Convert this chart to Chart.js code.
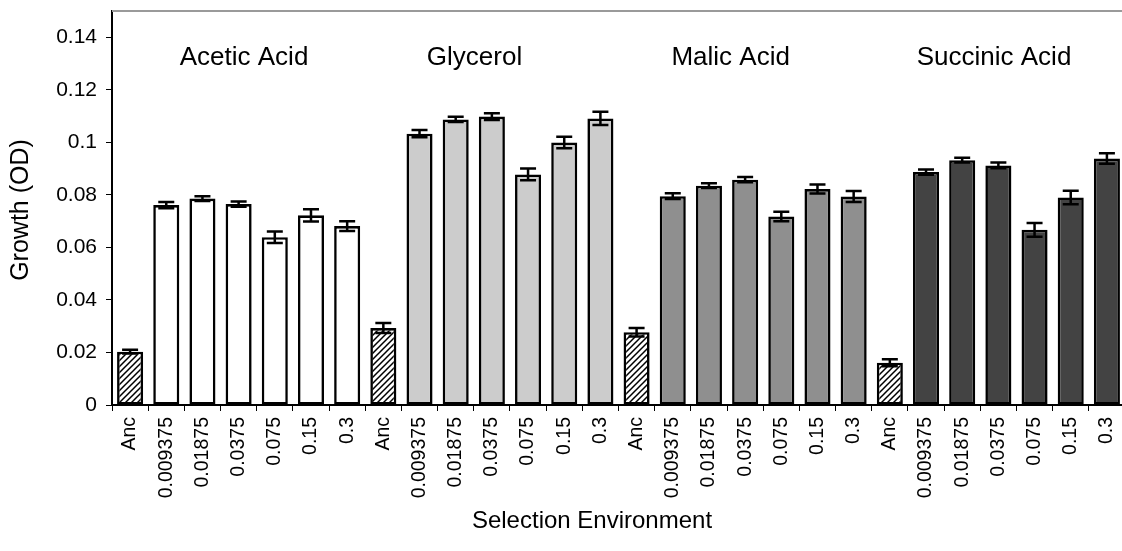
<!DOCTYPE html>
<html>
<head>
<meta charset="utf-8">
<script src="https://cdn.jsdelivr.net/npm/chart.js@4.4.1/dist/chart.umd.min.js"></script>
<style>
  html, body { margin: 0; padding: 0; background: #fff; overflow: hidden; }
  #wrap { width: 1125px; height: 551px; }
</style>
</head>
<body>
<div id="wrap"><canvas id="growthChart"></canvas></div>
<script>
const groupNames = ['Acetic Acid', 'Glycerol', 'Malic Acid', 'Succinic Acid'];
const concentrations = ['Anc', '0.009375', '0.01875', '0.0375', '0.075', '0.15', '0.3'];

const aceticMeans    = [0.0203, 0.0761, 0.0786, 0.0765, 0.0639, 0.0722, 0.0681];
const aceticErrors   = [0.0007, 0.0012, 0.0009, 0.0010, 0.0022, 0.0023, 0.0019];
const glycerolMeans  = [0.0293, 0.1033, 0.1087, 0.1098, 0.0878, 0.0999, 0.1091];
const glycerolErrors = [0.0019, 0.0014, 0.0010, 0.0013, 0.0022, 0.0022, 0.0025];
const malicMeans     = [0.0277, 0.0795, 0.0835, 0.0858, 0.0718, 0.0822, 0.0794];
const malicErrors    = [0.0016, 0.0011, 0.0009, 0.0010, 0.0018, 0.0017, 0.0021];
const succinicMeans  = [0.0161, 0.0887, 0.0932, 0.0912, 0.0667, 0.0790, 0.0938];
const succinicErrors = [0.0013, 0.0010, 0.0009, 0.0011, 0.0026, 0.0026, 0.0020];

const groupColors = ['#ffffff', '#cccccc', '#8f8f8f', '#434343'];
// where each group name sits along the category axis
const groupLabelPos = [3.15, 9.52, 16.6, 23.88];

const allMeans = [aceticMeans, glycerolMeans, malicMeans, succinicMeans];
const allErrors = [aceticErrors, glycerolErrors, malicErrors, succinicErrors];

const FONT = '"Liberation Sans", Arial, Helvetica, sans-serif';

// white background with "////" stripes for the ancestor bars
function makeHatch(ctx) {
    const c = document.createElement('canvas');
    c.width = 6; c.height = 6;
    const g = c.getContext('2d');
    g.fillStyle = '#fff';
    g.fillRect(0, 0, 6, 6);
    g.strokeStyle = '#000';
    g.lineWidth = 1.5;
    g.beginPath();
    g.moveTo(0, 6); g.lineTo(6, 0);
    g.moveTo(-1, 1); g.lineTo(1, -1);
    g.moveTo(5, 7); g.lineTo(7, 5);
    g.stroke();
    return ctx.createPattern(c, 'repeat');
}

const ctx = document.getElementById('growthChart').getContext('2d');
const hatch = makeHatch(ctx);

const labels = [];
const values = [];
const errors = [];
const fills = [];
allMeans.forEach((means, gi) => {
    means.forEach((m, i) => {
        labels.push(concentrations[i]);
        values.push(m);
        errors.push(allErrors[gi][i]);
        fills.push(i === 0 ? hatch : groupColors[gi]);
    });
});

const errorBars = {
    id: 'errorBars',
    afterDatasetsDraw(chart) {
        const meta = chart.getDatasetMeta(0);
        const y = chart.scales.y;
        const c = chart.ctx;
        c.save();
        c.strokeStyle = '#000';
        c.lineWidth = 2.5;
        meta.data.forEach((bar, i) => {
            const top = y.getPixelForValue(values[i] + errors[i]);
            const bot = y.getPixelForValue(values[i] - errors[i]);
            const x = bar.x;
            c.beginPath();
            c.moveTo(x, top); c.lineTo(x, bot);
            c.moveTo(x - 8, top); c.lineTo(x + 8, top);
            c.moveTo(x - 8, bot); c.lineTo(x + 8, bot);
            c.stroke();
        });
        c.restore();
    }
};

const decorations = {
    id: 'decorations',
    afterDraw(chart) {
        const c = chart.ctx;
        const area = chart.chartArea;
        const xs = chart.scales.x;
        const ys = chart.scales.y;
        c.save();
        // grey frame line along the top of the plot
        c.strokeStyle = '#9a9a9a';
        c.lineWidth = 2;
        c.beginPath();
        c.moveTo(area.left, area.top);
        c.lineTo(chart.width, area.top);
        c.stroke();

        c.fillStyle = '#000';
        c.textAlign = 'center';
        c.textBaseline = 'alphabetic';
        c.font = '26px ' + FONT;
        groupNames.forEach((name, gi) => {
            c.fillText(name, xs.getPixelForValue(groupLabelPos[gi]), ys.getPixelForValue(0.1295));
        });

        c.font = '24px ' + FONT;
        c.textBaseline = 'middle';
        c.fillText('Selection Environment', 592, 521);
        c.translate(21, 210);
        c.rotate(-Math.PI / 2);
        c.font = '25px ' + FONT;
        c.fillText('Growth (OD)', 0, 0);
        c.restore();
    }
};

new Chart(ctx, {
    type: 'bar',
    data: {
        labels: labels,
        datasets: [{
            data: values,
            backgroundColor: fills,
            borderColor: '#000',
            borderWidth: 2.6,
            borderSkipped: false,
            categoryPercentage: 1,
            barPercentage: 0.72
        }]
    },
    options: {
        responsive: true,
        maintainAspectRatio: false,
        animation: false,
        layout: { padding: { top: 11, right: 0, bottom: 0, left: 0 } },
        plugins: {
            legend: { display: false },
            title: { display: false },
            tooltip: { enabled: false }
        },
        scales: {
            x: {
                afterFit: s => {
                    s.height = 146;
                    s.paddingLeft = 0;
                    s.paddingRight = 0;
                },
                grid: {
                    offset: true,
                    drawOnChartArea: false,
                    color: '#000',
                    tickLength: 6,
                    lineWidth: 1
                },
                border: { color: '#000', width: 2 },
                ticks: {
                    autoSkip: false,
                    maxRotation: 90,
                    minRotation: 90,
                    padding: 6,
                    color: '#000',
                    font: { family: FONT, size: 19.5 }
                }
            },
            y: {
                min: 0,
                max: 0.15,
                afterFit: s => {
                    s.width = 112;
                    s.paddingTop = 0;
                    s.paddingBottom = 0;
                },
                grid: {
                    drawOnChartArea: false,
                    color: '#000',
                    tickLength: 6,
                    lineWidth: 1
                },
                border: { color: '#000', width: 2 },
                ticks: {
                    stepSize: 0.02,
                    includeBounds: false,
                    padding: 9,
                    color: '#000',
                    font: { family: FONT, size: 21 },
                    callback: v => String(Math.round(v * 100) / 100)
                }
            }
        }
    },
    plugins: [errorBars, decorations]
});
</script>
</body>
</html>
